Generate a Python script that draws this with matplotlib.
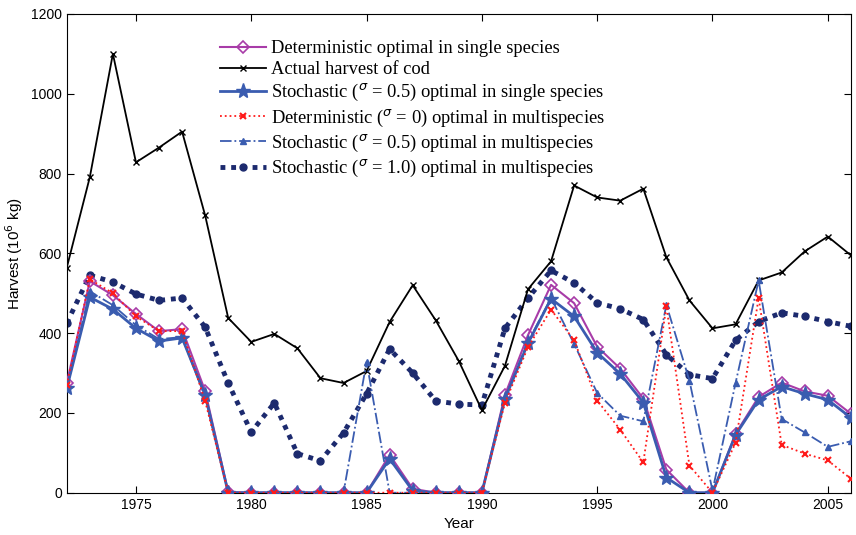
import numpy as np
import matplotlib
matplotlib.use("Agg")
from matplotlib import pyplot as plt

years = np.arange(1972, 2007)

actual = [564, 791, 1100, 828, 865, 905, 695, 438, 378, 398, 362, 287, 275, 305,
          428, 520, 432, 330, 207, 318, 510, 580, 770, 740, 732, 762, 590, 482,
          412, 422, 532, 552, 605, 642, 595]
det_single = [275, 530, 495, 448, 405, 410, 255, 2, 0, 0, 0, 0, 0, 0,
              95, 10, 0, 0, 0, 245, 395, 521, 475, 366, 311, 236, 58, 0,
              0, 148, 240, 276, 254, 243, 198]
sto_single = [262, 490, 460, 412, 380, 388, 245, 0, 0, 0, 0, 0, 0, 0,
              85, 5, 0, 0, 0, 235, 375, 486, 442, 351, 298, 226, 38, 0,
              0, 145, 233, 266, 248, 233, 188]
det_multi = [270, 535, 500, 442, 405, 405, 230, 0, 0, 0, 0, 0, 0, 0,
             0, 0, 0, 0, 0, 225, 365, 459, 382, 231, 158, 76, 467, 68,
             0, 125, 488, 120, 98, 81, 35]
sto_multi_05 = [262, 505, 470, 420, 385, 390, 240, 0, 0, 0, 0, 0, 0, 328,
                0, 0, 0, 0, 0, 238, 378, 488, 373, 250, 193, 179, 471, 281,
                5, 275, 532, 185, 151, 115, 129]
sto_multi_10 = [425, 545, 528, 498, 482, 488, 415, 275, 152, 225, 98, 80, 150, 248,
                360, 300, 230, 222, 220, 412, 488, 557, 526, 476, 461, 434, 346, 296,
                286, 382, 429, 451, 442, 429, 417]

labels = [
    "Deterministic optimal in single species",
    "Actual harvest of cod",
    r"Stochastic ($^{\sigma}$ = 0.5) optimal in single species",
    r"Deterministic ($^{\sigma}$ = 0) optimal in multispecies",
    r"Stochastic ($^{\sigma}$ = 0.5) optimal in multispecies",
    r"Stochastic ($^{\sigma}$ = 1.0) optimal in multispecies",
]

plt.rcParams['font.family'] = ['Liberation Sans', 'DejaVu Sans']
plt.rcParams['mathtext.fontset'] = 'dejavusans'

fig = plt.figure(figsize=(8.56, 5.35), dpi=100)
ax = fig.add_axes([0.078, 0.079, 0.916, 0.895])

ax.plot(years, det_single, color='#a83ca8', lw=1.5, marker='D', ms=6,
        mfc='none', mec='#a83ca8', mew=1.2, label=labels[0], zorder=4)
ax.plot(years, actual, color='black', lw=1.3, marker='x', ms=4,
        mew=1.0, label=labels[1], zorder=3)
ax.plot(years, sto_single, color='#3a5cb0', lw=2.0, marker='*', ms=11,
        label=labels[2], zorder=5)
ax.plot(years, det_multi, color='#ff1a1a', lw=1.3, ls=':', marker='x', ms=5,
        mew=1.5, label=labels[3], zorder=6)
ax.plot(years, sto_multi_05, color='#3a5cb0', lw=1.3, ls='-.', marker='^', ms=5,
        label=labels[4], zorder=5)
ax.plot(years, sto_multi_10, color='#1c2a6e', lw=3.5, ls=(0, (1, 1.2)), marker='o', ms=5,
        label=labels[5], zorder=2)

ax.set_xlim(1972, 2006)
ax.set_ylim(0, 1200)
ax.set_xticks(np.arange(1975, 2006, 5))
ax.set_yticks(np.arange(0, 1201, 200))
ax.tick_params(direction='in', top=True, right=True, labelsize=10, length=5)
ax.set_xlabel("Year", fontsize=11)
ax.set_ylabel("Harvest (10$^6$ kg)", fontsize=11)

leg = ax.legend(loc='upper left', bbox_to_anchor=(0.196, 0.945), frameon=False,
                prop={'family': ['Liberation Serif', 'DejaVu Serif'], 'size': 13.3},
                handlelength=2.45, handletextpad=0.3, labelspacing=0.22,
                borderaxespad=0, borderpad=0)

fig.savefig("out.png", dpi=100)
